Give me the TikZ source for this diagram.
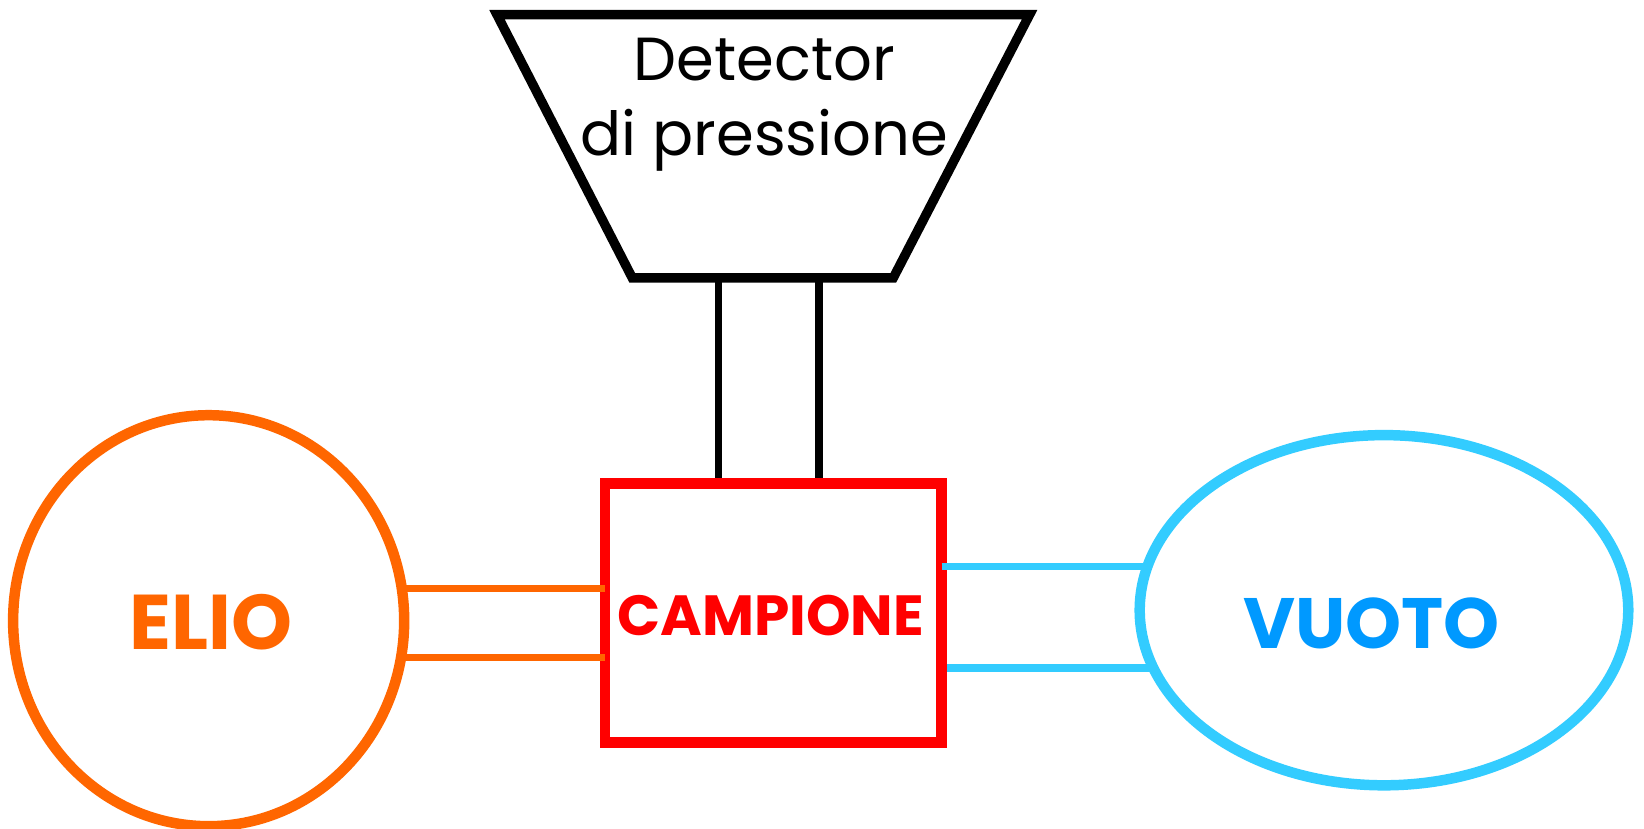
\documentclass[tikz,border=0pt]{standalone}
\usepackage{fontspec}
\setmainfont{Poppins}
\usetikzlibrary{shapes.geometric}
\definecolor{orng}{HTML}{FF6600}
\definecolor{cyanl}{HTML}{33CCFF}
\definecolor{vblue}{HTML}{0099FF}
\begin{document}
\begin{tikzpicture}[x=1pt,y=-1pt,
  link/.style={line width=7pt},
  bigtxt/.style={font=\fontsize{74}{78}\selectfont\bfseries}]
\useasboundingbox (0,0) rectangle (1568,790);
\fill[white] (0,0) rectangle (1568,790);
% detector
\coordinate (t1) at (474,14);
\coordinate (t2) at (982,14);
\coordinate (t3) at (852,265);
\coordinate (t4) at (603,265);
\draw[line width=9pt, line join=miter] (t1) -- (t2) -- (t3) -- (t4) -- cycle;
\node[font=\fontsize{58}{72}\selectfont, align=center] (det) at (729,100) {Detector\\di pressione};
% sample
\node[draw=red, line width=10pt, minimum width=321pt, minimum height=247pt, inner sep=0pt] (camp) at (737.5,584.5) {};
\node[text=red, font=\fontsize{54}{58}\selectfont\bfseries] (camptxt) at (735,587) {CAMPIONE};
% helium
\node[ellipse, draw=orng, line width=10pt, minimum width=373pt, minimum height=392pt, inner sep=0pt] (elio) at (199,592) {};
\node[text=orng, bigtxt] (eliotxt) at (201,593) {ELIO};
% vacuum
\node[ellipse, draw=cyanl, line width=10pt, minimum width=466pt, minimum height=334pt, inner sep=0pt] (vuoto) at (1320,582) {};
\node[text=vblue, font=\fontsize{68}{72}\selectfont\bfseries] (vuototxt) at (1308,595) {VUOTO};
% connectors detector - sample
\coordinate (d1) at (685,265);
\coordinate (d2) at (781,265);
\draw[link] (d1) -- (d1 |- camp.north);
\draw[link] (d2) -- (d2 |- camp.north);
% connectors helium - sample
\coordinate (o1) at (384,561);
\coordinate (o2) at (384,627);
\coordinate (o1e) at (577,561);
\coordinate (o2e) at (577,627);
\draw[link, orng] (o1) -- (o1e);
\draw[link, orng] (o2) -- (o2e);
% connectors sample - vacuum
\coordinate (c1) at (898,540);
\coordinate (c2) at (903,637);
\coordinate (c1e) at (1090,540);
\coordinate (c2e) at (1098,637);
\draw[link, cyanl] (c1) -- (c1e);
\draw[link, cyanl] (c2) -- (c2e);
\end{tikzpicture}
\end{document}
